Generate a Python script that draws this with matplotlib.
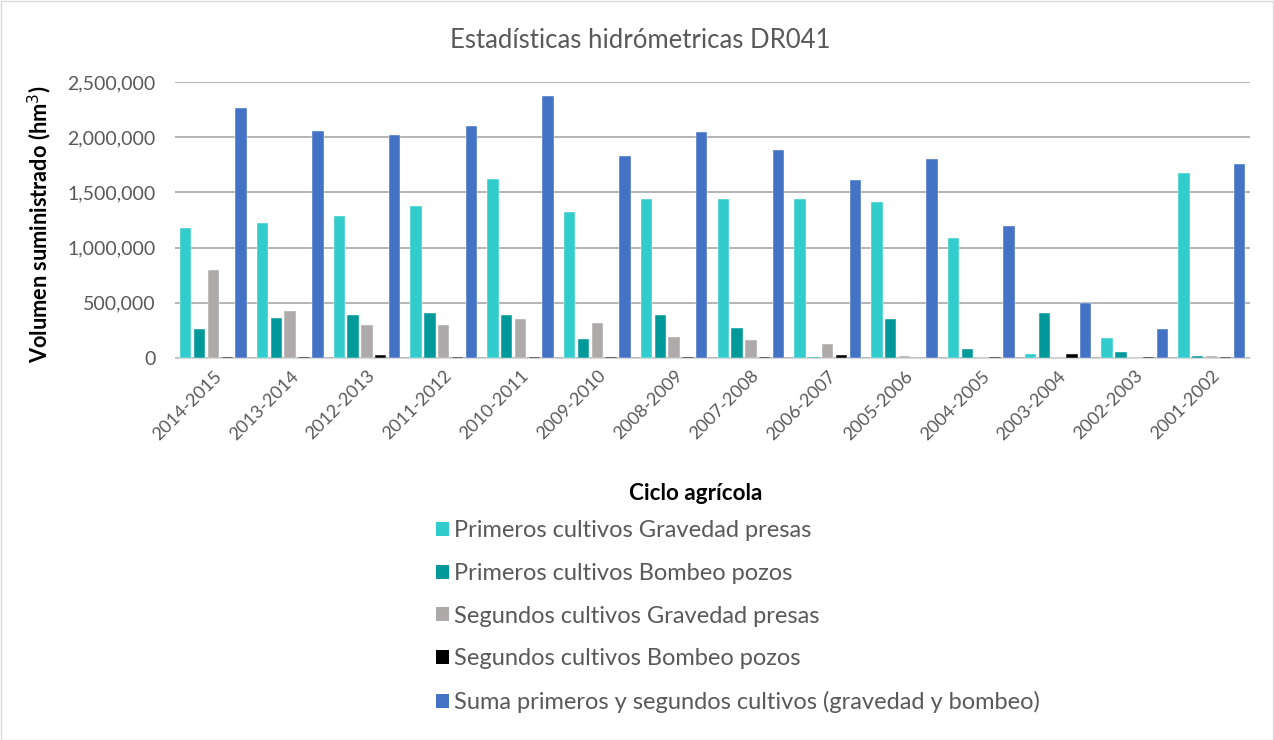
import matplotlib
matplotlib.use("Agg")
import matplotlib.pyplot as plt
import numpy as np
from matplotlib.patches import Patch
from matplotlib.ticker import FuncFormatter

categories = ["2014-2015", "2013-2014", "2012-2013", "2011-2012", "2010-2011", "2009-2010",
              "2008-2009", "2007-2008", "2006-2007", "2005-2006", "2004-2005", "2003-2004",
              "2002-2003", "2001-2002"]
primeros_gravedad = [1182000, 1227000, 1285000, 1379000, 1617000, 1318000, 1436000, 1436000,
                     1436000, 1412000, 1091000, 33000, 184000, 1678000]
primeros_bombeo = [263000, 366000, 390000, 411000, 390000, 172000, 390000, 275000,
                   12000, 354000, 82000, 411000, 57000, 22000]
segundos_gravedad = [801000, 426000, 296000, 296000, 354000, 320000, 193000, 160000,
                     127000, 22000, 10000, 10000, 10000, 22000]
segundos_bombeo = [12000, 12000, 25000, 12000, 12000, 12000, 12000, 12000,
                   25000, 0, 12000, 33000, 12000, 12000]
suma_total = [2261000, 2055000, 2023000, 2101000, 2377000, 1826000, 2044000, 1883000,
              1608000, 1805000, 1194000, 495000, 263000, 1756000]

series_names = ["Primeros cultivos Gravedad presas", "Primeros cultivos Bombeo pozos",
                "Segundos cultivos Gravedad presas", "Segundos cultivos Bombeo pozos",
                "Suma primeros y segundos cultivos (gravedad y bombeo)"]
series = [primeros_gravedad, primeros_bombeo, segundos_gravedad, segundos_bombeo, suma_total]
colors = ["#33CCCC", "#009999", "#AEAAAA", "#000000", "#4472C4"]

FONT = "Lato"
W, H = 1274, 740
fig = plt.figure(figsize=(W / 100, H / 100), dpi=100)
fig.patch.set_facecolor("white")

# outer border
fig.add_artist(plt.Rectangle((0.5 / W, 0.5 / H), 1 - 1.5 / W, 1 - 1.5 / H, transform=fig.transFigure,
                             fill=False, edgecolor="#D9D9D9", linewidth=1))

left, right, top, bottom = 175, 1250, 82, 358
ax = fig.add_axes([left / W, 1 - bottom / H, (right - left) / W, (bottom - top) / H])

x = np.arange(len(categories))
step = 0.18
width = 0.148
for i, (vals, c, name) in enumerate(zip(series, colors, series_names)):
    ax.bar(x + (i - 2) * step, vals, width=width, color=c, edgecolor="white", linewidth=0.3,
           label=name, zorder=3)

ax.set_xlim(-0.5, len(categories) - 0.5)
ax.set_ylim(0, 2500000)
ax.set_yticks(np.arange(0, 2500001, 500000))
ax.yaxis.set_major_formatter(FuncFormatter(lambda v, p: f"{int(v):,}"))
ax.grid(axis="y", color="#A0A0A0", linewidth=1.1, zorder=0)
for s in ["top", "right", "left"]:
    ax.spines[s].set_visible(False)
ax.spines["bottom"].set_color("#D9D9D9")
ax.tick_params(axis="both", length=0, colors="#595959")
ax.tick_params(axis="y", pad=14)
for lbl in ax.get_yticklabels():
    lbl.set_fontfamily(FONT)
    lbl.set_fontsize(14)
ax.set_xticks(x)
ax.set_xticklabels(categories, rotation=45, ha="right", rotation_mode="anchor",
                   fontfamily=FONT, fontsize=13, color="#595959")
ax.tick_params(axis="x", pad=7)

fig.text(640 / W, 1 - 40 / H, "Estadísticas hidrómetricas DR041", ha="center", va="center",
         fontfamily=FONT, fontsize=18.5, color="#595959")
fig.text(40 / W, 1 - 224 / H, "Volumen suministrado (hm$^3$)", rotation=90, ha="center", va="center",
         fontfamily=FONT, fontsize=15.7, fontweight="bold", color="black")
fig.text(696 / W, 1 - 493 / H, "Ciclo agrícola", ha="center", va="center",
         fontfamily=FONT, fontsize=16.2, fontweight="bold", color="black")

handles = [Patch(facecolor=c, edgecolor="none") for c in colors]
leg = fig.legend(handles, series_names, loc="upper left", bbox_to_anchor=(415 / W, 1 - 499 / H),
                 frameon=False, prop={"family": FONT, "size": 17}, labelcolor="#595959",
                 handlelength=0.55, handleheight=0.55, handletextpad=0.2, labelspacing=0.92)

fig.savefig("out.png", dpi=100, facecolor="white")
